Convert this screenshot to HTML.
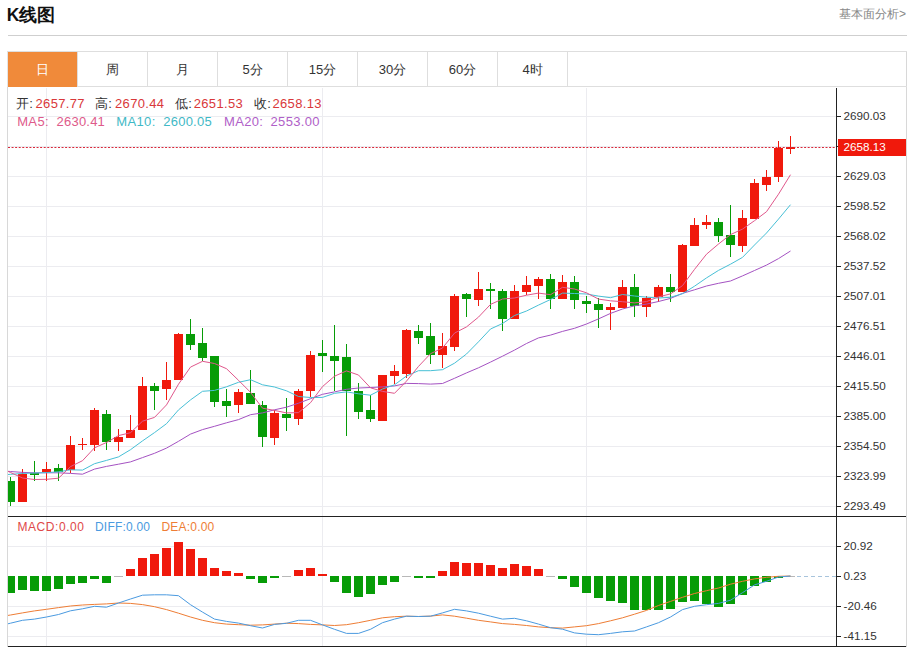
<!DOCTYPE html>
<html><head><meta charset="utf-8">
<style>
html,body{margin:0;padding:0;background:#fff;}
body{width:914px;height:649px;position:relative;overflow:hidden;font-family:"Liberation Sans",sans-serif;color:#333;}
.title{position:absolute;left:6.7px;top:4.2px;font-size:17.5px;font-weight:bold;color:#111;line-height:22px;}
.more{position:absolute;right:8px;top:6px;font-size:12px;color:#888;line-height:16px;}
.hline{position:absolute;left:8px;top:35px;width:899px;height:1px;background:#cfcfcf;}
.tabs{position:absolute;left:7px;top:51px;width:900px;height:36px;border-top:1px solid #dedede;border-bottom:1px solid #dedede;box-sizing:border-box;}
.tab{position:absolute;top:0;height:35px;line-height:35px;text-align:center;font-size:13px;color:#333;}
.sep{position:absolute;top:0;width:1px;height:35px;background:#dedede;}
.on{background:#f08a3a;color:#fff;}
svg{position:absolute;left:0;top:0;}
.t13{position:absolute;font-size:13px;line-height:18px;white-space:nowrap;color:#333;letter-spacing:0.35px;}
.t12{position:absolute;font-size:12px;line-height:16px;white-space:nowrap;letter-spacing:0.2px;}
.r{color:#d9383a;}
.k{color:#333;}
</style></head><body>
<div class="title">K线图</div>
<div class="more">基本面分析&gt;</div>
<div class="hline"></div>
<svg width="914" height="649" viewBox="0 0 914 649">
<line x1="8" y1="116.5" x2="836" y2="116.5" stroke="#ececf0" stroke-width="1"/>
<line x1="8" y1="146.5" x2="836" y2="146.5" stroke="#ececf0" stroke-width="1"/>
<line x1="8" y1="176.5" x2="836" y2="176.5" stroke="#ececf0" stroke-width="1"/>
<line x1="8" y1="206.5" x2="836" y2="206.5" stroke="#ececf0" stroke-width="1"/>
<line x1="8" y1="236.5" x2="836" y2="236.5" stroke="#ececf0" stroke-width="1"/>
<line x1="8" y1="266.5" x2="836" y2="266.5" stroke="#ececf0" stroke-width="1"/>
<line x1="8" y1="296.5" x2="836" y2="296.5" stroke="#ececf0" stroke-width="1"/>
<line x1="8" y1="326.5" x2="836" y2="326.5" stroke="#ececf0" stroke-width="1"/>
<line x1="8" y1="356.5" x2="836" y2="356.5" stroke="#ececf0" stroke-width="1"/>
<line x1="8" y1="386.5" x2="836" y2="386.5" stroke="#ececf0" stroke-width="1"/>
<line x1="8" y1="416.5" x2="836" y2="416.5" stroke="#ececf0" stroke-width="1"/>
<line x1="8" y1="446.5" x2="836" y2="446.5" stroke="#ececf0" stroke-width="1"/>
<line x1="8" y1="476.5" x2="836" y2="476.5" stroke="#ececf0" stroke-width="1"/>
<line x1="8" y1="506.5" x2="836" y2="506.5" stroke="#ececf0" stroke-width="1"/>
<line x1="8" y1="546.5" x2="836" y2="546.5" stroke="#ececf0" stroke-width="1"/>
<line x1="8" y1="606.5" x2="836" y2="606.5" stroke="#ececf0" stroke-width="1"/>
<line x1="8" y1="636.5" x2="836" y2="636.5" stroke="#ececf0" stroke-width="1"/>
<line x1="46.5" y1="88" x2="46.5" y2="646" stroke="#ececf0" stroke-width="1"/>
<line x1="322.5" y1="88" x2="322.5" y2="646" stroke="#ececf0" stroke-width="1"/>
<line x1="586.5" y1="88" x2="586.5" y2="646" stroke="#ececf0" stroke-width="1"/>
<defs><clipPath id="pc"><rect x="8" y="88" width="828" height="428"/></clipPath><clipPath id="mc"><rect x="8" y="517" width="828" height="129"/></clipPath></defs>
<g clip-path="url(#pc)" shape-rendering="crispEdges">
<rect x="10.0" y="477.0" width="1" height="28.6" fill="#079c07"/>
<rect x="6.0" y="481.0" width="9" height="21.2" fill="#079c07"/>
<rect x="22.0" y="469.1" width="1" height="33.3" fill="#f0190c"/>
<rect x="18.0" y="473.6" width="9" height="28.3" fill="#f0190c"/>
<rect x="34.0" y="460.6" width="1" height="20.0" fill="#079c07"/>
<rect x="30.0" y="473.2" width="9" height="1.5" fill="#079c07"/>
<rect x="46.0" y="461.6" width="1" height="19.4" fill="#f0190c"/>
<rect x="42.0" y="468.6" width="9" height="3.7" fill="#f0190c"/>
<rect x="58.0" y="463.6" width="1" height="17.0" fill="#079c07"/>
<rect x="54.0" y="468.0" width="9" height="3.7" fill="#079c07"/>
<rect x="70.0" y="435.9" width="1" height="37.3" fill="#f0190c"/>
<rect x="66.0" y="444.5" width="9" height="25.9" fill="#f0190c"/>
<rect x="82.0" y="438.4" width="1" height="11.1" fill="#f0190c"/>
<rect x="78.0" y="443.6" width="9" height="1.4" fill="#f0190c"/>
<rect x="94.0" y="408.1" width="1" height="43.3" fill="#f0190c"/>
<rect x="90.0" y="410.0" width="9" height="34.9" fill="#f0190c"/>
<rect x="106.0" y="410.0" width="1" height="39.5" fill="#079c07"/>
<rect x="102.0" y="414.0" width="9" height="28.3" fill="#079c07"/>
<rect x="118.0" y="429.4" width="1" height="21.1" fill="#f0190c"/>
<rect x="114.0" y="437.2" width="9" height="4.6" fill="#f0190c"/>
<rect x="130.0" y="414.8" width="1" height="22.7" fill="#f0190c"/>
<rect x="126.0" y="430.0" width="9" height="7.5" fill="#f0190c"/>
<rect x="142.0" y="377.0" width="1" height="53.0" fill="#f0190c"/>
<rect x="138.0" y="386.4" width="9" height="43.6" fill="#f0190c"/>
<rect x="154.0" y="383.2" width="1" height="26.7" fill="#079c07"/>
<rect x="150.0" y="386.0" width="9" height="4.9" fill="#079c07"/>
<rect x="166.0" y="362.3" width="1" height="37.7" fill="#f0190c"/>
<rect x="162.0" y="379.8" width="9" height="9.1" fill="#f0190c"/>
<rect x="178.0" y="333.0" width="1" height="47.3" fill="#f0190c"/>
<rect x="174.0" y="333.9" width="9" height="46.4" fill="#f0190c"/>
<rect x="190.0" y="319.1" width="1" height="31.1" fill="#079c07"/>
<rect x="186.0" y="333.9" width="9" height="10.6" fill="#079c07"/>
<rect x="202.0" y="327.8" width="1" height="32.7" fill="#079c07"/>
<rect x="198.0" y="342.8" width="9" height="14.8" fill="#079c07"/>
<rect x="214.0" y="356.4" width="1" height="51.0" fill="#079c07"/>
<rect x="210.0" y="356.4" width="9" height="45.3" fill="#079c07"/>
<rect x="226.0" y="389.4" width="1" height="27.1" fill="#079c07"/>
<rect x="222.0" y="400.5" width="9" height="5.2" fill="#079c07"/>
<rect x="238.0" y="389.4" width="1" height="23.6" fill="#f0190c"/>
<rect x="234.0" y="392.1" width="9" height="12.8" fill="#f0190c"/>
<rect x="250.0" y="369.7" width="1" height="34.7" fill="#079c07"/>
<rect x="246.0" y="393.1" width="9" height="11.3" fill="#079c07"/>
<rect x="262.0" y="400.7" width="1" height="46.6" fill="#079c07"/>
<rect x="258.0" y="404.9" width="9" height="32.1" fill="#079c07"/>
<rect x="274.0" y="409.9" width="1" height="35.0" fill="#f0190c"/>
<rect x="270.0" y="413.0" width="9" height="24.7" fill="#f0190c"/>
<rect x="286.0" y="398.3" width="1" height="32.5" fill="#079c07"/>
<rect x="282.0" y="414.0" width="9" height="4.0" fill="#079c07"/>
<rect x="298.0" y="388.9" width="1" height="35.7" fill="#f0190c"/>
<rect x="294.0" y="390.6" width="9" height="27.9" fill="#f0190c"/>
<rect x="310.0" y="350.7" width="1" height="46.3" fill="#f0190c"/>
<rect x="306.0" y="354.9" width="9" height="36.5" fill="#f0190c"/>
<rect x="322.0" y="339.6" width="1" height="32.0" fill="#079c07"/>
<rect x="318.0" y="353.1" width="9" height="3.3" fill="#079c07"/>
<rect x="334.0" y="325.2" width="1" height="65.3" fill="#079c07"/>
<rect x="330.0" y="356.1" width="9" height="5.2" fill="#079c07"/>
<rect x="346.0" y="343.5" width="1" height="92.5" fill="#079c07"/>
<rect x="342.0" y="357.1" width="9" height="34.0" fill="#079c07"/>
<rect x="358.0" y="383.2" width="1" height="36.2" fill="#079c07"/>
<rect x="354.0" y="391.1" width="9" height="20.4" fill="#079c07"/>
<rect x="370.0" y="394.8" width="1" height="27.1" fill="#079c07"/>
<rect x="366.0" y="410.1" width="9" height="8.6" fill="#079c07"/>
<rect x="382.0" y="374.6" width="1" height="46.1" fill="#f0190c"/>
<rect x="378.0" y="374.6" width="9" height="46.1" fill="#f0190c"/>
<rect x="394.0" y="364.7" width="1" height="19.7" fill="#f0190c"/>
<rect x="390.0" y="370.6" width="9" height="5.0" fill="#f0190c"/>
<rect x="406.0" y="329.0" width="1" height="48.5" fill="#f0190c"/>
<rect x="402.0" y="330.2" width="9" height="43.6" fill="#f0190c"/>
<rect x="418.0" y="325.3" width="1" height="18.2" fill="#079c07"/>
<rect x="414.0" y="331.4" width="9" height="6.7" fill="#079c07"/>
<rect x="430.0" y="322.8" width="1" height="40.7" fill="#079c07"/>
<rect x="426.0" y="336.1" width="9" height="18.7" fill="#079c07"/>
<rect x="442.0" y="332.5" width="1" height="35.5" fill="#f0190c"/>
<rect x="438.0" y="346.1" width="9" height="8.7" fill="#f0190c"/>
<rect x="454.0" y="293.6" width="1" height="57.5" fill="#f0190c"/>
<rect x="450.0" y="296.1" width="9" height="50.5" fill="#f0190c"/>
<rect x="466.0" y="293.1" width="1" height="23.5" fill="#079c07"/>
<rect x="462.0" y="294.4" width="9" height="4.9" fill="#079c07"/>
<rect x="478.0" y="272.2" width="1" height="33.3" fill="#f0190c"/>
<rect x="474.0" y="289.0" width="9" height="10.8" fill="#f0190c"/>
<rect x="490.0" y="282.8" width="1" height="25.9" fill="#079c07"/>
<rect x="486.0" y="289.0" width="9" height="2.4" fill="#079c07"/>
<rect x="502.0" y="288.7" width="1" height="42.7" fill="#079c07"/>
<rect x="498.0" y="291.4" width="9" height="27.6" fill="#079c07"/>
<rect x="514.0" y="285.3" width="1" height="33.7" fill="#f0190c"/>
<rect x="510.0" y="291.2" width="9" height="27.8" fill="#f0190c"/>
<rect x="526.0" y="275.9" width="1" height="19.0" fill="#f0190c"/>
<rect x="522.0" y="285.3" width="9" height="6.6" fill="#f0190c"/>
<rect x="538.0" y="277.1" width="1" height="22.2" fill="#f0190c"/>
<rect x="534.0" y="278.8" width="9" height="7.4" fill="#f0190c"/>
<rect x="550.0" y="274.0" width="1" height="35.2" fill="#079c07"/>
<rect x="546.0" y="278.6" width="9" height="20.4" fill="#079c07"/>
<rect x="562.0" y="274.7" width="1" height="24.6" fill="#f0190c"/>
<rect x="558.0" y="282.0" width="9" height="17.3" fill="#f0190c"/>
<rect x="574.0" y="276.4" width="1" height="32.8" fill="#079c07"/>
<rect x="570.0" y="282.0" width="9" height="18.0" fill="#079c07"/>
<rect x="586.0" y="296.4" width="1" height="16.5" fill="#079c07"/>
<rect x="582.0" y="301.0" width="9" height="3.2" fill="#079c07"/>
<rect x="598.0" y="297.6" width="1" height="30.8" fill="#079c07"/>
<rect x="594.0" y="303.5" width="9" height="6.9" fill="#079c07"/>
<rect x="610.0" y="303.0" width="1" height="27.1" fill="#f0190c"/>
<rect x="606.0" y="307.4" width="9" height="3.0" fill="#f0190c"/>
<rect x="622.0" y="280.1" width="1" height="28.3" fill="#f0190c"/>
<rect x="618.0" y="286.5" width="9" height="21.9" fill="#f0190c"/>
<rect x="634.0" y="273.9" width="1" height="43.4" fill="#079c07"/>
<rect x="630.0" y="286.5" width="9" height="19.7" fill="#079c07"/>
<rect x="646.0" y="295.6" width="1" height="21.4" fill="#f0190c"/>
<rect x="642.0" y="297.6" width="9" height="9.1" fill="#f0190c"/>
<rect x="658.0" y="285.0" width="1" height="17.4" fill="#f0190c"/>
<rect x="654.0" y="286.6" width="9" height="10.0" fill="#f0190c"/>
<rect x="670.0" y="274.2" width="1" height="27.5" fill="#079c07"/>
<rect x="666.0" y="286.8" width="9" height="5.6" fill="#079c07"/>
<rect x="682.0" y="244.4" width="1" height="47.5" fill="#f0190c"/>
<rect x="678.0" y="245.4" width="9" height="46.5" fill="#f0190c"/>
<rect x="694.0" y="218.1" width="1" height="28.2" fill="#f0190c"/>
<rect x="690.0" y="225.1" width="9" height="21.2" fill="#f0190c"/>
<rect x="706.0" y="215.3" width="1" height="13.5" fill="#f0190c"/>
<rect x="702.0" y="221.7" width="9" height="3.7" fill="#f0190c"/>
<rect x="718.0" y="217.5" width="1" height="24.9" fill="#079c07"/>
<rect x="714.0" y="222.0" width="9" height="13.6" fill="#079c07"/>
<rect x="730.0" y="205.0" width="1" height="51.5" fill="#079c07"/>
<rect x="726.0" y="235.3" width="9" height="10.1" fill="#079c07"/>
<rect x="742.0" y="209.8" width="1" height="42.5" fill="#f0190c"/>
<rect x="738.0" y="217.8" width="9" height="28.4" fill="#f0190c"/>
<rect x="754.0" y="178.9" width="1" height="39.9" fill="#f0190c"/>
<rect x="750.0" y="182.8" width="9" height="36.0" fill="#f0190c"/>
<rect x="766.0" y="170.3" width="1" height="20.5" fill="#f0190c"/>
<rect x="762.0" y="176.8" width="9" height="8.6" fill="#f0190c"/>
<rect x="778.0" y="141.2" width="1" height="41.0" fill="#f0190c"/>
<rect x="774.0" y="148.3" width="9" height="29.1" fill="#f0190c"/>
<rect x="790.0" y="135.5" width="1" height="18.7" fill="#f0190c"/>
<rect x="786.0" y="147.1" width="9" height="1.4" fill="#f0190c"/>
</g>
<g clip-path="url(#pc)">
<polyline points="7.5,471.3 10.5,471.5 22.5,472.4 34.5,472.8 46.5,472.8 58.5,472.8 70.5,473.4 82.5,474.2 94.5,469.1 106.5,466.4 118.5,464.2 130.5,461.9 142.5,457.6 154.5,453.3 166.5,448.1 178.5,441.3 190.5,434.1 202.5,429.6 214.5,426.3 226.5,422.8 238.5,419.6 250.5,414.7 262.5,412.9 274.5,409.8 286.5,407.2 298.5,403.2 310.5,398.7 322.5,394.3 334.5,391.9 346.5,389.3 358.5,388.0 370.5,387.5 382.5,386.9 394.5,385.9 406.5,383.4 418.5,383.6 430.5,384.1 442.5,383.5 454.5,378.3 466.5,372.9 478.5,367.8 490.5,362.1 502.5,356.2 514.5,350.1 526.5,343.5 538.5,337.9 550.5,335.1 562.5,331.4 574.5,328.3 586.5,324.0 598.5,318.9 610.5,313.4 622.5,309.0 634.5,305.8 646.5,304.1 658.5,301.5 670.5,298.4 682.5,293.4 694.5,289.8 706.5,286.0 718.5,283.3 730.5,281.0 742.5,275.9 754.5,270.5 766.5,265.1 778.5,258.6 790.5,251.0" fill="none" stroke="#a452c2" stroke-width="1" stroke-linejoin="round"/>
<polyline points="7.5,474.5 10.5,474.3 22.5,473.5 34.5,473.0 46.5,472.6 58.5,471.8 70.5,469.8 82.5,470.1 94.5,463.7 106.5,460.4 118.5,456.9 130.5,449.7 142.5,440.9 154.5,432.6 166.5,423.7 178.5,409.9 190.5,399.9 202.5,391.3 214.5,390.4 226.5,386.8 238.5,382.3 250.5,379.7 262.5,384.8 274.5,387.0 286.5,390.8 298.5,396.5 310.5,397.5 322.5,397.4 334.5,393.3 346.5,391.9 358.5,393.8 370.5,395.2 382.5,389.0 394.5,384.8 406.5,376.0 418.5,370.7 430.5,370.7 442.5,369.7 454.5,363.2 466.5,354.0 478.5,341.8 490.5,329.0 502.5,323.5 514.5,315.5 526.5,311.0 538.5,305.1 550.5,299.5 562.5,293.1 574.5,293.5 586.5,294.0 598.5,296.1 610.5,297.7 622.5,294.5 634.5,296.0 646.5,297.2 658.5,298.0 670.5,297.3 682.5,293.7 694.5,286.2 706.5,277.9 718.5,270.4 730.5,264.2 742.5,257.4 754.5,245.0 766.5,233.0 778.5,219.1 790.5,204.7" fill="none" stroke="#48c0d6" stroke-width="1" stroke-linejoin="round"/>
<polyline points="7.5,471.1 10.5,472.5 22.5,478.0 34.5,479.5 46.5,479.3 58.5,478.2 70.5,466.6 82.5,460.7 94.5,447.8 106.5,442.5 118.5,435.6 130.5,432.7 142.5,421.2 154.5,417.4 166.5,404.9 178.5,384.2 190.5,367.1 202.5,361.3 214.5,363.5 226.5,368.7 238.5,380.3 250.5,392.3 262.5,408.2 274.5,410.4 286.5,412.9 298.5,412.6 310.5,402.7 322.5,386.6 334.5,376.2 346.5,370.9 358.5,375.0 370.5,387.8 382.5,391.4 394.5,393.3 406.5,381.1 418.5,366.4 430.5,353.7 442.5,348.0 454.5,333.1 466.5,326.9 478.5,317.1 490.5,304.4 502.5,299.0 514.5,298.0 526.5,295.2 538.5,293.1 550.5,294.7 562.5,287.3 574.5,289.0 586.5,292.8 598.5,299.1 610.5,300.8 622.5,301.7 634.5,302.9 646.5,301.6 658.5,296.9 670.5,293.9 682.5,285.6 694.5,269.4 706.5,254.2 718.5,244.0 730.5,234.6 742.5,229.1 754.5,220.7 766.5,211.7 778.5,194.2 790.5,174.7" fill="none" stroke="#e0588c" stroke-width="1" stroke-linejoin="round"/>
</g>
<line x1="8" y1="147.5" x2="836" y2="147.5" stroke="#d8283a" stroke-width="1" stroke-dasharray="2,1.57"/>
<line x1="790" y1="576.5" x2="836" y2="576.5" stroke="#a8c4dc" stroke-width="1" stroke-dasharray="4,3"/>
<g clip-path="url(#mc)" shape-rendering="crispEdges">
<rect x="6.0" y="576.2" width="9" height="16.4" fill="#079c07"/>
<rect x="18.0" y="576.2" width="9" height="13.3" fill="#079c07"/>
<rect x="30.0" y="576.2" width="9" height="14.6" fill="#079c07"/>
<rect x="42.0" y="576.2" width="9" height="14.3" fill="#079c07"/>
<rect x="54.0" y="576.2" width="9" height="12.6" fill="#079c07"/>
<rect x="66.0" y="576.2" width="9" height="7.6" fill="#079c07"/>
<rect x="78.0" y="576.2" width="9" height="6.5" fill="#079c07"/>
<rect x="90.0" y="576.2" width="9" height="2.6" fill="#079c07"/>
<rect x="102.0" y="576.2" width="9" height="6.5" fill="#079c07"/>
<rect x="114.0" y="576" width="9" height="1" fill="#b8b8b8"/>
<rect x="126.0" y="569.1" width="9" height="7.1" fill="#f0190c"/>
<rect x="138.0" y="558.0" width="9" height="18.2" fill="#f0190c"/>
<rect x="150.0" y="553.9" width="9" height="22.3" fill="#f0190c"/>
<rect x="162.0" y="548.1" width="9" height="28.1" fill="#f0190c"/>
<rect x="174.0" y="542.1" width="9" height="34.1" fill="#f0190c"/>
<rect x="186.0" y="548.9" width="9" height="27.3" fill="#f0190c"/>
<rect x="198.0" y="557.8" width="9" height="18.4" fill="#f0190c"/>
<rect x="210.0" y="568.1" width="9" height="8.1" fill="#f0190c"/>
<rect x="222.0" y="570.8" width="9" height="5.4" fill="#f0190c"/>
<rect x="234.0" y="572.7" width="9" height="3.5" fill="#f0190c"/>
<rect x="246.0" y="576.2" width="9" height="2.3" fill="#079c07"/>
<rect x="258.0" y="576.2" width="9" height="6.5" fill="#079c07"/>
<rect x="270.0" y="576.2" width="9" height="1.6" fill="#079c07"/>
<rect x="282.0" y="576" width="9" height="1" fill="#b8b8b8"/>
<rect x="294.0" y="570.0" width="9" height="6.2" fill="#f0190c"/>
<rect x="306.0" y="568.1" width="9" height="8.1" fill="#f0190c"/>
<rect x="318.0" y="573.9" width="9" height="2.3" fill="#f0190c"/>
<rect x="330.0" y="576.2" width="9" height="6.1" fill="#079c07"/>
<rect x="342.0" y="576.2" width="9" height="16.5" fill="#079c07"/>
<rect x="354.0" y="576.2" width="9" height="20.3" fill="#079c07"/>
<rect x="366.0" y="576.2" width="9" height="17.3" fill="#079c07"/>
<rect x="378.0" y="576.2" width="9" height="8.7" fill="#079c07"/>
<rect x="390.0" y="576.2" width="9" height="5.4" fill="#079c07"/>
<rect x="402.0" y="576" width="9" height="1" fill="#b8b8b8"/>
<rect x="414.0" y="576.2" width="9" height="1.8" fill="#079c07"/>
<rect x="426.0" y="576.2" width="9" height="1.6" fill="#079c07"/>
<rect x="438.0" y="571.4" width="9" height="4.8" fill="#f0190c"/>
<rect x="450.0" y="562.1" width="9" height="14.1" fill="#f0190c"/>
<rect x="462.0" y="562.8" width="9" height="13.4" fill="#f0190c"/>
<rect x="474.0" y="562.5" width="9" height="13.7" fill="#f0190c"/>
<rect x="486.0" y="565.0" width="9" height="11.2" fill="#f0190c"/>
<rect x="498.0" y="568.1" width="9" height="8.1" fill="#f0190c"/>
<rect x="510.0" y="564.2" width="9" height="12.0" fill="#f0190c"/>
<rect x="522.0" y="565.7" width="9" height="10.5" fill="#f0190c"/>
<rect x="534.0" y="569.2" width="9" height="7.0" fill="#f0190c"/>
<rect x="546.0" y="576" width="9" height="1" fill="#b8b8b8"/>
<rect x="558.0" y="576.2" width="9" height="2.6" fill="#079c07"/>
<rect x="570.0" y="576.2" width="9" height="10.8" fill="#079c07"/>
<rect x="582.0" y="576.2" width="9" height="16.8" fill="#079c07"/>
<rect x="594.0" y="576.2" width="9" height="22.0" fill="#079c07"/>
<rect x="606.0" y="576.2" width="9" height="25.2" fill="#079c07"/>
<rect x="618.0" y="576.2" width="9" height="27.2" fill="#079c07"/>
<rect x="630.0" y="576.2" width="9" height="33.8" fill="#079c07"/>
<rect x="642.0" y="576.2" width="9" height="33.9" fill="#079c07"/>
<rect x="654.0" y="576.2" width="9" height="33.6" fill="#079c07"/>
<rect x="666.0" y="576.2" width="9" height="32.6" fill="#079c07"/>
<rect x="678.0" y="576.2" width="9" height="25.3" fill="#079c07"/>
<rect x="690.0" y="576.2" width="9" height="24.6" fill="#079c07"/>
<rect x="702.0" y="576.2" width="9" height="27.8" fill="#079c07"/>
<rect x="714.0" y="576.2" width="9" height="30.3" fill="#079c07"/>
<rect x="726.0" y="576.2" width="9" height="27.9" fill="#079c07"/>
<rect x="738.0" y="576.2" width="9" height="18.6" fill="#079c07"/>
<rect x="750.0" y="576.2" width="9" height="9.4" fill="#079c07"/>
<rect x="762.0" y="576.2" width="9" height="5.4" fill="#079c07"/>
<rect x="774.0" y="576.2" width="9" height="1.3" fill="#079c07"/>
<rect x="786.0" y="576" width="9" height="1" fill="#b8b8b8"/>
</g>
<g clip-path="url(#mc)">
<polyline points="7.5,615.5 10.5,615.0 22.5,612.9 34.5,610.9 46.5,609.3 58.5,607.6 70.5,606.0 82.5,605.0 94.5,604.4 106.5,603.9 118.5,603.0 130.5,603.4 142.5,604.6 154.5,606.7 166.5,609.6 178.5,613.2 190.5,617.0 202.5,620.3 214.5,622.7 226.5,624.1 238.5,624.7 250.5,625.2 262.5,624.9 274.5,624.1 286.5,623.2 298.5,623.6 310.5,624.4 322.5,624.9 334.5,625.5 346.5,624.7 358.5,622.7 370.5,620.3 382.5,617.8 394.5,616.7 406.5,616.2 418.5,616.5 430.5,616.1 442.5,614.9 454.5,616.2 466.5,618.2 478.5,620.3 490.5,621.9 502.5,623.6 514.5,624.4 526.5,625.5 538.5,626.9 550.5,627.7 562.5,628.1 574.5,626.9 586.5,625.7 598.5,623.6 610.5,620.8 622.5,617.8 634.5,614.2 646.5,610.4 658.5,605.5 670.5,601.4 682.5,597.3 694.5,593.5 706.5,590.7 718.5,588.0 730.5,584.2 742.5,581.3 754.5,578.9 766.5,577.3 778.5,576.3 790.5,576.0" fill="none" stroke="#ee7d35" stroke-width="1" stroke-linejoin="round"/>
<polyline points="7.5,623.9 10.5,623.2 22.5,620.3 34.5,619.1 46.5,617.0 58.5,614.5 70.5,610.8 82.5,608.8 94.5,606.3 106.5,607.2 118.5,603.0 130.5,599.0 142.5,595.2 154.5,594.8 166.5,594.8 178.5,595.7 190.5,604.7 202.5,612.1 214.5,619.1 226.5,621.4 238.5,623.1 250.5,625.7 262.5,628.0 274.5,624.4 286.5,623.3 298.5,620.3 310.5,620.3 322.5,624.9 334.5,629.3 346.5,633.4 358.5,633.4 370.5,629.3 382.5,622.7 394.5,619.1 406.5,616.2 418.5,616.5 430.5,616.2 442.5,612.9 454.5,609.3 466.5,610.9 478.5,613.2 490.5,616.2 502.5,619.1 514.5,618.3 526.5,620.8 538.5,624.1 550.5,627.7 562.5,629.2 574.5,632.9 586.5,634.2 598.5,634.7 610.5,633.4 622.5,631.8 634.5,631.0 646.5,626.9 658.5,622.7 670.5,617.0 682.5,609.6 694.5,606.3 706.5,604.7 718.5,603.4 730.5,600.2 742.5,592.7 754.5,584.9 766.5,581.3 778.5,577.0 790.5,576.0" fill="none" stroke="#4a9ae0" stroke-width="1" stroke-linejoin="round"/>
</g>
<g shape-rendering="crispEdges">
<line x1="7.5" y1="87" x2="7.5" y2="647" stroke="#d8d8d8" stroke-width="1"/>
<line x1="906.5" y1="51" x2="906.5" y2="647" stroke="#d8d8d8" stroke-width="1"/>
<line x1="836.5" y1="88" x2="836.5" y2="647" stroke="#222" stroke-width="1"/>
<line x1="8" y1="516.5" x2="906" y2="516.5" stroke="#222" stroke-width="1"/>
<line x1="8" y1="646.5" x2="906" y2="646.5" stroke="#222" stroke-width="1"/>
<line x1="836" y1="116.5" x2="841" y2="116.5" stroke="#222" stroke-width="1"/>
<line x1="836" y1="146.5" x2="841" y2="146.5" stroke="#222" stroke-width="1"/>
<line x1="836" y1="176.5" x2="841" y2="176.5" stroke="#222" stroke-width="1"/>
<line x1="836" y1="206.5" x2="841" y2="206.5" stroke="#222" stroke-width="1"/>
<line x1="836" y1="236.5" x2="841" y2="236.5" stroke="#222" stroke-width="1"/>
<line x1="836" y1="266.5" x2="841" y2="266.5" stroke="#222" stroke-width="1"/>
<line x1="836" y1="296.5" x2="841" y2="296.5" stroke="#222" stroke-width="1"/>
<line x1="836" y1="326.5" x2="841" y2="326.5" stroke="#222" stroke-width="1"/>
<line x1="836" y1="356.5" x2="841" y2="356.5" stroke="#222" stroke-width="1"/>
<line x1="836" y1="386.5" x2="841" y2="386.5" stroke="#222" stroke-width="1"/>
<line x1="836" y1="416.5" x2="841" y2="416.5" stroke="#222" stroke-width="1"/>
<line x1="836" y1="446.5" x2="841" y2="446.5" stroke="#222" stroke-width="1"/>
<line x1="836" y1="476.5" x2="841" y2="476.5" stroke="#222" stroke-width="1"/>
<line x1="836" y1="506.5" x2="841" y2="506.5" stroke="#222" stroke-width="1"/>
<line x1="836" y1="546.5" x2="841" y2="546.5" stroke="#222" stroke-width="1"/>
<line x1="836" y1="576.5" x2="841" y2="576.5" stroke="#222" stroke-width="1"/>
<line x1="836" y1="606.5" x2="841" y2="606.5" stroke="#222" stroke-width="1"/>
<line x1="836" y1="636.5" x2="841" y2="636.5" stroke="#222" stroke-width="1"/>
</g>
<rect x="838" y="138.5" width="68" height="17.5" fill="#f0190c" shape-rendering="crispEdges"/>
<text x="843.5" y="120.2" font-family="Liberation Sans, sans-serif" font-size="11.7" fill="#333">2690.03</text>
<text x="843.5" y="180.2" font-family="Liberation Sans, sans-serif" font-size="11.7" fill="#333">2629.03</text>
<text x="843.5" y="210.2" font-family="Liberation Sans, sans-serif" font-size="11.7" fill="#333">2598.52</text>
<text x="843.5" y="240.2" font-family="Liberation Sans, sans-serif" font-size="11.7" fill="#333">2568.02</text>
<text x="843.5" y="270.2" font-family="Liberation Sans, sans-serif" font-size="11.7" fill="#333">2537.52</text>
<text x="843.5" y="300.2" font-family="Liberation Sans, sans-serif" font-size="11.7" fill="#333">2507.01</text>
<text x="843.5" y="330.2" font-family="Liberation Sans, sans-serif" font-size="11.7" fill="#333">2476.51</text>
<text x="843.5" y="360.2" font-family="Liberation Sans, sans-serif" font-size="11.7" fill="#333">2446.01</text>
<text x="843.5" y="390.2" font-family="Liberation Sans, sans-serif" font-size="11.7" fill="#333">2415.50</text>
<text x="843.5" y="420.2" font-family="Liberation Sans, sans-serif" font-size="11.7" fill="#333">2385.00</text>
<text x="843.5" y="450.2" font-family="Liberation Sans, sans-serif" font-size="11.7" fill="#333">2354.50</text>
<text x="843.5" y="480.2" font-family="Liberation Sans, sans-serif" font-size="11.7" fill="#333">2323.99</text>
<text x="843.5" y="510.2" font-family="Liberation Sans, sans-serif" font-size="11.7" fill="#333">2293.49</text>
<text x="843.5" y="151.4" font-family="Liberation Sans, sans-serif" font-size="11.7" fill="#fff">2658.13</text>
<text x="843.5" y="550.2" font-family="Liberation Sans, sans-serif" font-size="11.7" fill="#333">20.92</text>
<text x="843.5" y="580.2" font-family="Liberation Sans, sans-serif" font-size="11.7" fill="#333">0.23</text>
<text x="843.5" y="610.2" font-family="Liberation Sans, sans-serif" font-size="11.7" fill="#333">-20.46</text>
<text x="843.5" y="640.2" font-family="Liberation Sans, sans-serif" font-size="11.7" fill="#333">-41.15</text>
</svg>
<div class="tabs">
<div class="sep" style="left:0px;background:#e4e4e4"></div>
<div class="tab on" style="left:1px;width:69px">日</div>
<div class="sep" style="left:70px"></div>
<div class="tab" style="left:71px;width:69px">周</div>
<div class="sep" style="left:140px"></div>
<div class="tab" style="left:141px;width:69px">月</div>
<div class="sep" style="left:210px"></div>
<div class="tab" style="left:211px;width:69px">5分</div>
<div class="sep" style="left:280px"></div>
<div class="tab" style="left:281px;width:69px">15分</div>
<div class="sep" style="left:350px"></div>
<div class="tab" style="left:351px;width:69px">30分</div>
<div class="sep" style="left:420px"></div>
<div class="tab" style="left:421px;width:69px">60分</div>
<div class="sep" style="left:490px"></div>
<div class="tab" style="left:491px;width:69px">4时</div>
<div class="sep" style="left:560px"></div>
</div>
<div class="t13" style="left:16px;top:95px">开:</div>
<div class="t13 r" style="left:35.5px;top:95px">2657.77</div>
<div class="t13" style="left:95px;top:95px">高:</div>
<div class="t13 r" style="left:115px;top:95px">2670.44</div>
<div class="t13" style="left:175px;top:95px">低:</div>
<div class="t13 r" style="left:193.7px;top:95px">2651.53</div>
<div class="t13" style="left:253.8px;top:95px">收:</div>
<div class="t13 r" style="left:272.4px;top:95px">2658.13</div>
<div class="t13" style="left:17.2px;top:113px;color:#de5a8a">MA5:</div>
<div class="t13" style="left:56.6px;top:113px;color:#de5a8a;letter-spacing:0.2px">2630.41</div>
<div class="t13" style="left:116.3px;top:113px;color:#3fb9c6">MA10:</div>
<div class="t13" style="left:163.2px;top:113px;color:#3fb9c6;letter-spacing:0.25px">2600.05</div>
<div class="t13" style="left:224px;top:113px;color:#b060c8">MA20:</div>
<div class="t13" style="left:270.5px;top:113px;color:#b060c8">2553.00</div>
<div class="t12" style="left:17.5px;top:519px;color:#e04848;letter-spacing:0.55px">MACD:0.00</div>
<div class="t12" style="left:95px;top:519px;color:#4a9ae0">DIFF:0.00</div>
<div class="t12" style="left:161.5px;top:519px;color:#ee7d35">DEA:0.00</div>
</body></html>
